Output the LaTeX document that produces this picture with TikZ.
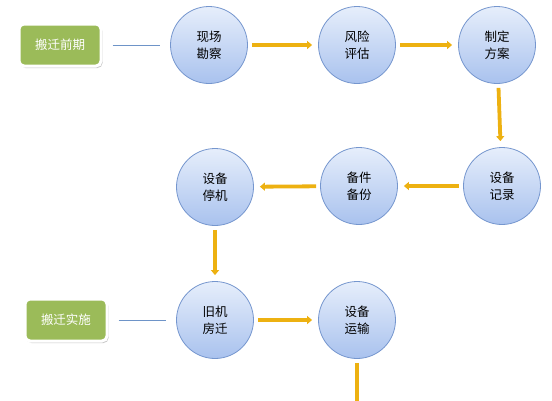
\documentclass[tikz,border=0pt]{standalone}
\usepackage{fontspec}
\newfontfamily\cjk{Noto Sans CJK SC}
\usetikzlibrary{arrows.meta,shadows}
\definecolor{steptop}{HTML}{E6EEFB}
\definecolor{stepbot}{HTML}{A9C2EE}
\definecolor{stepedge}{HTML}{7596CE}
\definecolor{phasegreen}{HTML}{9BBB59}
\definecolor{flowgold}{HTML}{EDB111}
\definecolor{linkblue}{HTML}{6E94C8}
\begin{document}
\begin{tikzpicture}[x=1pt,y=-1pt,
        stage/.style={circle,draw=stepedge,line width=0.8pt,minimum size=77pt,
            inner sep=0pt,top color=steptop,bottom color=stepbot,align=center,
            font=\cjk\fontsize{12.5}{17}\selectfont},
        phase/.style={rounded corners=5pt,fill=phasegreen,draw=white,line width=3pt,
            minimum width=82pt,minimum height=42pt,text=white,
            font=\cjk\fontsize{12.5}{15}\selectfont,
            drop shadow={opacity=0.45,shadow xshift=1.5pt,shadow yshift=-2pt}},
        flow/.style={draw=flowgold,line width=3.8pt,shorten <=4pt,shorten >=6pt,
            -{Triangle[length=5pt,width=8pt]}},
        link/.style={draw=linkblue,line width=0.7pt,shorten <=10pt,shorten >=10pt}]
        \useasboundingbox (0,0) rectangle (552,400);
        %% Stages
        \foreach \name/\x/\y/\txt in {survey/209/45/现场\\勘察,risk/357/45/风险\\评估,
                plan/497/45/制定\\方案,record/502/186/设备\\记录,spare/359/186/备件\\备份,
                halt/215/187/设备\\停机,move/215/320/旧机\\房迁,ship/357/320/设备\\运输}
            \node[stage] (\name) at (\x,\y) {\txt};
        %% Phases
        \node[phase] (early) at (60,45) {搬迁前期};
        \node[phase] (carry) at (66,320) {搬迁实施};
        \draw[link] (early) -- (survey);
        \draw[link] (carry) -- (move);
        %% Flow
        \foreach \a/\b in {survey/risk,risk/plan,plan/record,record/spare,
                spare/halt,halt/move,move/ship}
            \draw[flow] (\a) -- (\b);
        \coordinate (tail) at (357,415);
        \draw[flow] (ship) -- (tail);
    \end{tikzpicture}
\end{document}
